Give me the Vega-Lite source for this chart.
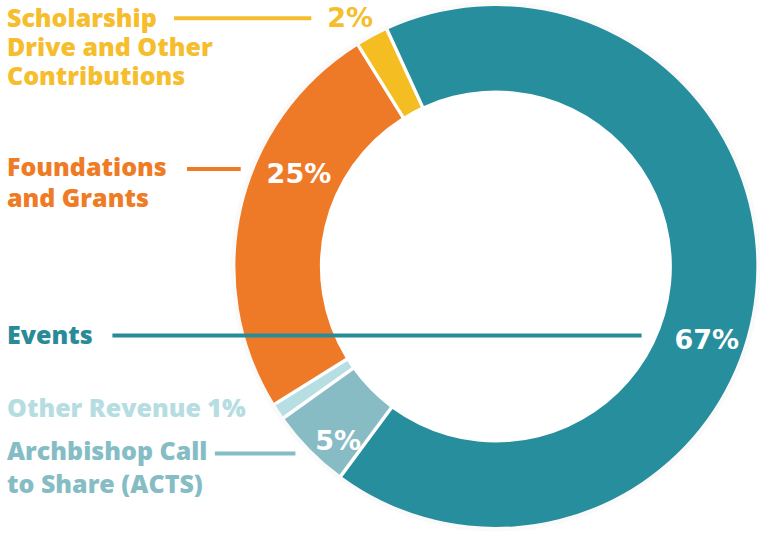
{
  "$schema": "https://vega.github.io/schema/vega-lite/v6.json",
  "width": 760,
  "height": 539,
  "autosize": {"type": "fit", "contains": "padding"},
  "padding": 0,
  "background": "white",
  "config": {"view": {"stroke": null}},
  "datasets": {
    "slices": [
      {"source": "Events", "share": 67, "rank": 1},
      {"source": "Archbishop Call to Share (ACTS)", "share": 5, "rank": 2},
      {"source": "Other Revenue", "share": 1, "rank": 3},
      {"source": "Foundations and Grants", "share": 25, "rank": 4},
      {"source": "Scholarship Drive and Other Contributions", "share": 2, "rank": 5}
    ],
    "labels": [
      {"role": "Scholarship", "text": "Scholarship", "lx": 7, "ly": 26.7},
      {"role": "Scholarship", "text": "Drive and Other", "lx": 7, "ly": 55.7},
      {"role": "Scholarship", "text": "Contributions", "lx": 7, "ly": 85},
      {"role": "Foundations", "text": "Foundations", "lx": 7, "ly": 176},
      {"role": "Foundations", "text": "and Grants", "lx": 7, "ly": 207},
      {"role": "Events", "text": "Events", "lx": 7, "ly": 344},
      {"role": "Other", "text": "Other Revenue 1%", "lx": 7, "ly": 417},
      {"role": "ACTS", "text": "Archbishop Call", "lx": 7, "ly": 459.5},
      {"role": "ACTS", "text": "to Share (ACTS)", "lx": 7, "ly": 492.5}
    ],
    "pcts": [
      {"role": "Scholarship", "text": "2%", "lx": 329, "ly": 27},
      {"role": "inside", "text": "25%", "lx": 268, "ly": 182.5},
      {"role": "inside", "text": "67%", "lx": 678, "ly": 349},
      {"role": "inside", "text": "5%", "lx": 317, "ly": 450}
    ],
    "leaders": [
      {"role": "Scholarship", "x1": 175, "x2": 313, "ly": 18.3},
      {"role": "Foundations", "x1": 188, "x2": 242, "ly": 169},
      {"role": "Events", "x1": 113, "x2": 645, "ly": 335.5},
      {"role": "ACTS", "x1": 216, "x2": 297, "ly": 453.5}
    ]
  },
  "resolve": {"scale": {"color": "independent"}},
  "layer": [
    {
      "data": {"values": [{"ring": "halo"}]},
      "mark": {"type": "arc", "theta": 0, "theta2": 6.2832, "radius": 265, "radius2": 258, "color": "#fafafa"},
      "encoding": {
        "x": {"datum": 498.5, "type": "quantitative", "scale": {"domain": [0, 760], "nice": false, "zero": false}, "axis": null},
        "y": {"datum": 266.5, "type": "quantitative", "scale": {"domain": [0, 539], "nice": false, "zero": false, "reverse": true}, "axis": null}
      }
    },
    {
      "data": {"name": "slices"},
      "mark": {"type": "arc", "radius": 260.5, "radius2": 176, "padAngle": 0.011},
      "encoding": {
        "theta": {"field": "share", "type": "quantitative", "stack": true, "scale": {"range": [-0.431, 5.8522]}},
        "order": {"field": "rank", "type": "quantitative"},
        "color": {
          "field": "source",
          "type": "nominal",
          "legend": null,
          "scale": {
            "domain": ["Events", "Archbishop Call to Share (ACTS)", "Other Revenue", "Foundations and Grants", "Scholarship Drive and Other Contributions"],
            "range": ["#268e9c", "#88bcc5", "#b7dee3", "#ee7a27", "#f4bd22"]
          }
        },
        "x": {"datum": 498.5, "type": "quantitative", "scale": {"domain": [0, 760], "nice": false, "zero": false}, "axis": null},
        "y": {"datum": 266.5, "type": "quantitative", "scale": {"domain": [0, 539], "nice": false, "zero": false, "reverse": true}, "axis": null}
      }
    },
    {
      "data": {"name": "leaders"},
      "mark": {"type": "rule", "strokeWidth": 4},
      "encoding": {
        "x": {"field": "x1", "type": "quantitative", "scale": {"domain": [0, 760], "nice": false, "zero": false}, "axis": null},
        "x2": {"field": "x2"},
        "y": {"field": "ly", "type": "quantitative", "scale": {"domain": [0, 539], "nice": false, "zero": false, "reverse": true}, "axis": null},
        "color": {
          "field": "role",
          "type": "nominal",
          "legend": null,
          "scale": {
            "domain": ["Scholarship", "Foundations", "Events", "ACTS"],
            "range": ["#f6bd2c", "#ef7b24", "#2a8b98", "#86bdc5"]
          }
        }
      }
    },
    {
      "data": {"name": "labels"},
      "mark": {"type": "text", "font": "Open Sans", "fontWeight": 800, "fontSize": 25, "align": "left", "baseline": "alphabetic"},
      "encoding": {
        "x": {"field": "lx", "type": "quantitative", "scale": {"domain": [0, 760], "nice": false, "zero": false}, "axis": null},
        "y": {"field": "ly", "type": "quantitative", "scale": {"domain": [0, 539], "nice": false, "zero": false, "reverse": true}, "axis": null},
        "text": {"field": "text", "type": "nominal"},
        "color": {
          "field": "role",
          "type": "nominal",
          "legend": null,
          "scale": {
            "domain": ["Scholarship", "Foundations", "Events", "Other", "ACTS"],
            "range": ["#f6bd2c", "#ef7b24", "#2a8b98", "#b5dde2", "#86bdc5"]
          }
        }
      }
    },
    {
      "data": {"name": "pcts"},
      "mark": {"type": "text", "font": "DejaVu Sans", "fontWeight": "bold", "fontSize": 27, "align": "left", "baseline": "alphabetic"},
      "encoding": {
        "x": {"field": "lx", "type": "quantitative", "scale": {"domain": [0, 760], "nice": false, "zero": false}, "axis": null},
        "y": {"field": "ly", "type": "quantitative", "scale": {"domain": [0, 539], "nice": false, "zero": false, "reverse": true}, "axis": null},
        "text": {"field": "text", "type": "nominal"},
        "color": {
          "field": "role",
          "type": "nominal",
          "legend": null,
          "scale": {
            "domain": ["Scholarship", "inside"],
            "range": ["#f6bd2c", "#ffffff"]
          }
        }
      }
    }
  ]
}
